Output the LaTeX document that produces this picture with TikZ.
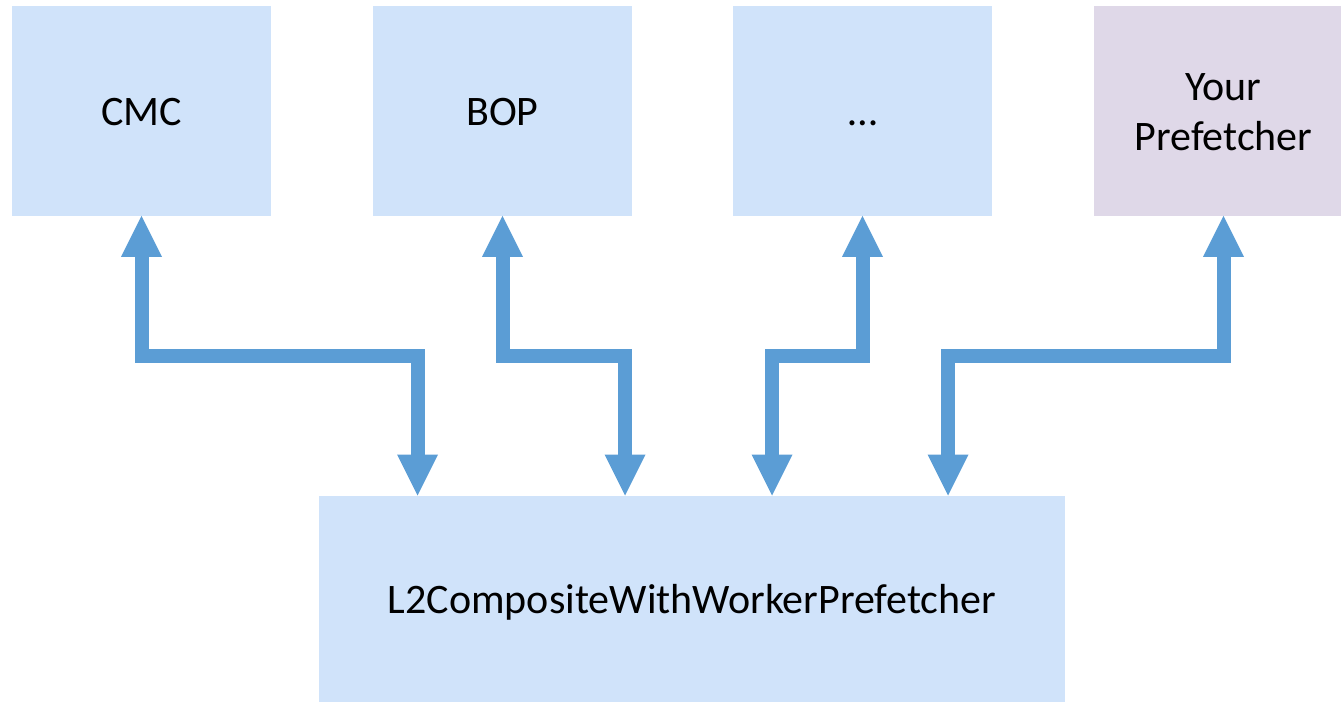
\documentclass[tikz,border=0pt]{standalone}
\usepackage{fontspec}
\setmainfont{Carlito}
\usetikzlibrary{arrows.meta}

\definecolor{boxblue}{RGB}{208,227,250}
\definecolor{boxlilac}{RGB}{223,216,232}
\definecolor{linkblue}{RGB}{91,157,213}

\tikzset{
  block/.style={fill=boxblue, draw=none, inner sep=0pt, align=center,
    font=\fontsize{42}{50}\selectfont, text=black, text height=30pt, text depth=0pt},
  topblock/.style={block, minimum width=259pt, minimum height=209.7pt},
  link/.style={draw=linkblue, line width=14pt, line join=miter, line cap=butt,
    {Triangle[width=41pt,length=41pt,line width=0pt]}-{Triangle[width=41pt,length=41pt,line width=0pt]}}
}

\begin{document}
\begin{tikzpicture}[x=1pt, y=-1pt]
  \useasboundingbox (0,0) rectangle (1341,702);

  % upper row of components
  \node[topblock] (cmc) at (141.5,110.85) {CMC};
  \node[topblock] (bop) at (502.5,110.85) {BOP};
  \node[topblock] (etc) at (862.5,110.85) {…};
  \node[topblock, fill=boxlilac, text height=80pt] (yours) at (1223.5,110.85) {Your\\Prefetcher};

  % composite prefetcher at the bottom
  \node[block, minimum width=745.7pt, minimum height=206.3pt] (l2) at (692,598.85) {L2CompositeWithWorkerPrefetcher};

  % elbow points of the connectors
  \coordinate (e1) at (417.5,356);
  \coordinate (e2) at (625,356);
  \coordinate (e3) at (772,356);
  \coordinate (e4) at (948,356);

  % two-way links
  \draw[link] (cmc.south) |- (e1) -- (e1 |- l2.north);
  \draw[link] (bop.south) |- (e2) -- (e2 |- l2.north);
  \draw[link] (etc.south) |- (e3) -- (e3 |- l2.north);
  \draw[link] (yours.south) |- (e4) -- (e4 |- l2.north);
\end{tikzpicture}
\end{document}
